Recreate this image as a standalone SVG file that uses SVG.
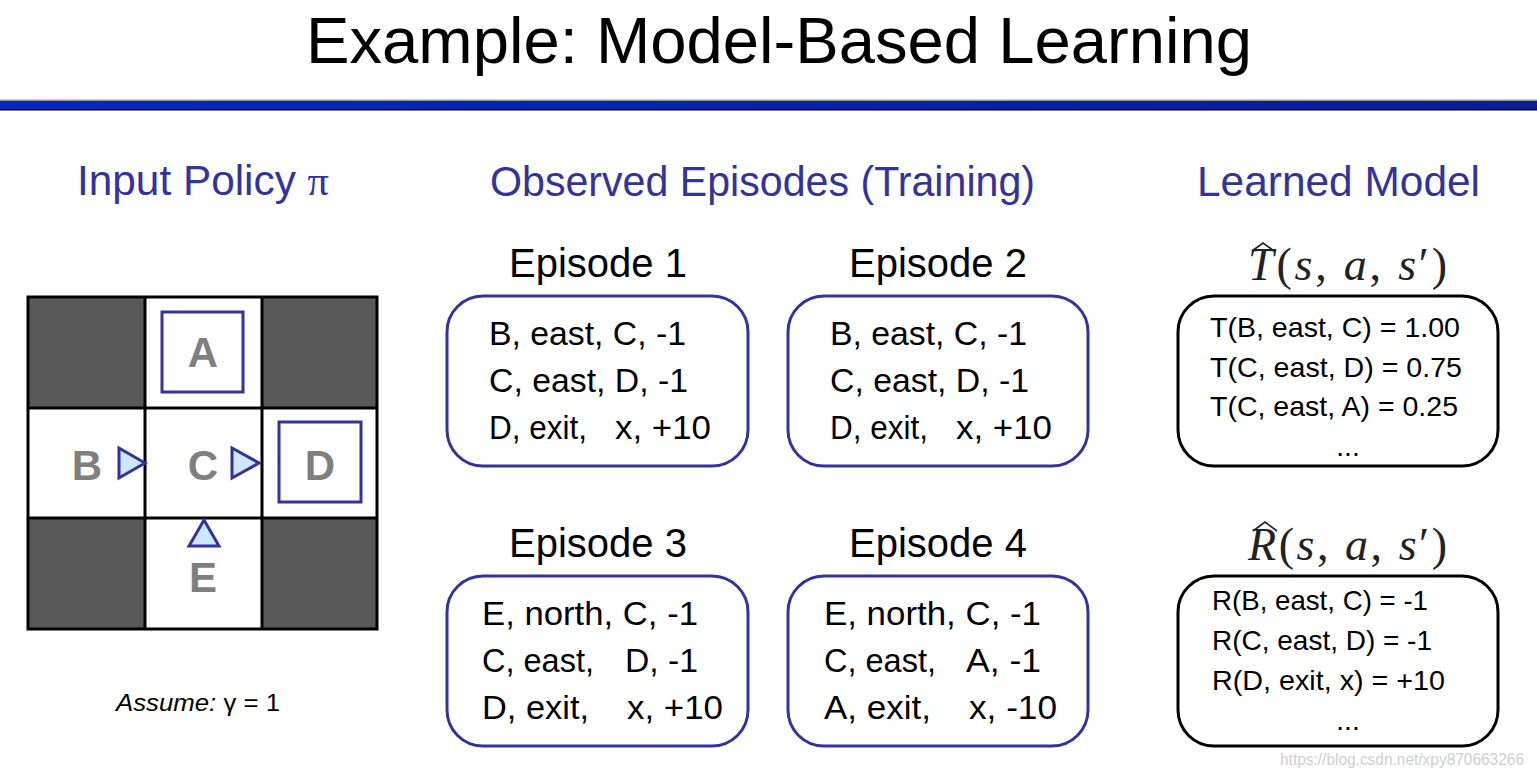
<svg xmlns="http://www.w3.org/2000/svg" width="1537" height="779" viewBox="0 0 1537 779">
  <defs>
    <linearGradient id="bar" x1="0" y1="0" x2="1" y2="0">
      <stop offset="0" stop-color="#0626c4"/>
      <stop offset="1" stop-color="#0a1c96"/>
    </linearGradient>
    <style>
      .sans { font-family: "Liberation Sans", Arial, sans-serif; }
      .title { font-size: 64px; fill: #000; }
      .head { font-size: 42px; fill: #333399; }
      .eptitle { font-size: 40px; fill: #000; text-anchor: middle; }
      .ep { font-size: 34px; fill: #000; }
      .model { font-size: 28px; fill: #000; }
      .epbox { fill: #fff; stroke: #333399; stroke-width: 3; }
      .mbox { fill: #fff; stroke: #000; stroke-width: 3; }
      .dark { fill: #595959; }
      .cellline { fill: none; stroke: #000; stroke-width: 3; }
      .term { fill: none; stroke: #333399; stroke-width: 3; }
      .letter { font-family: "Liberation Sans", Arial, sans-serif; font-weight: bold; font-size: 42px; fill: #7f7f7f; text-anchor: middle; }
      .arrow { fill: #cce8ff; stroke: #333399; stroke-width: 3; stroke-linejoin: miter; }
      .math { font-family: "Liberation Serif", "Times New Roman", serif; font-size: 46px; fill: #222; }
      .hat { fill: none; stroke: #222; stroke-width: 1.6; stroke-linejoin: miter; }
    </style>
  </defs>
  <rect width="1537" height="779" fill="#fff"/>

  <g id="header">
    <text class="sans title" x="779" y="63" text-anchor="middle" textLength="946" lengthAdjust="spacingAndGlyphs">Example: Model-Based Learning</text>
    <rect x="0" y="99.5" width="1537" height="1.5" fill="#9a9a9a"/>
    <rect x="0" y="101" width="1537" height="8" fill="url(#bar)"/>
    <rect x="0" y="109" width="1537" height="1.5" fill="#000"/>
  </g>

  <g id="headings">
    <text class="sans head" x="77" y="195" textLength="252" lengthAdjust="spacingAndGlyphs">Input Policy <tspan font-family="Liberation Serif, serif">π</tspan></text>
    <text class="sans head" x="490" y="196" textLength="545" lengthAdjust="spacingAndGlyphs">Observed Episodes (Training)</text>
    <text class="sans head" x="1197" y="196" textLength="283" lengthAdjust="spacingAndGlyphs">Learned Model</text>
  </g>

  <g id="gridworld">
    <rect x="28" y="297" width="349" height="332" fill="#fff"/>
    <rect class="dark" x="28" y="297" width="117" height="111"/>
    <rect class="dark" x="262" y="297" width="115" height="111"/>
    <rect class="dark" x="28" y="518" width="117" height="111"/>
    <rect class="dark" x="262" y="518" width="115" height="111"/>
    <rect class="cellline" x="28" y="297" width="349" height="332"/>
    <line class="cellline" x1="145" y1="297" x2="145" y2="629"/>
    <line class="cellline" x1="262" y1="297" x2="262" y2="629"/>
    <line class="cellline" x1="28" y1="408" x2="377" y2="408"/>
    <line class="cellline" x1="28" y1="518" x2="377" y2="518"/>
  </g>

  <g id="state-A">
    <rect class="term" x="162" y="312" width="81" height="80"/>
    <text class="letter" x="203" y="367">A</text>
  </g>
  <g id="state-B">
    <text class="letter" x="87" y="480">B</text>
    <polygon class="arrow" points="119,448 119,478 145,463"/>
  </g>
  <g id="state-C">
    <text class="letter" x="203" y="480">C</text>
    <polygon class="arrow" points="232,448 232,478 259,463"/>
  </g>
  <g id="state-D">
    <rect class="term" x="279" y="422" width="82" height="80"/>
    <text class="letter" x="320" y="480">D</text>
  </g>
  <g id="state-E">
    <polygon class="arrow" points="204,520 189,546 219,546"/>
    <text class="letter" x="203" y="592">E</text>
  </g>

  <g id="assume">
    <text class="sans" x="116" y="711" font-size="24" fill="#000" textLength="164" lengthAdjust="spacingAndGlyphs"><tspan font-style="italic">Assume:</tspan> γ = 1</text>
  </g>

  <g id="episode-1">
    <text class="sans eptitle" x="598" y="277">Episode 1</text>
    <rect class="epbox" x="447" y="296" width="301" height="170" rx="36" ry="36"/>
    <text class="sans ep" x="489" y="345" textLength="197" lengthAdjust="spacingAndGlyphs">B, east, C, -1</text>
    <text class="sans ep" x="489" y="392" textLength="199" lengthAdjust="spacingAndGlyphs">C, east, D, -1</text>
    <text class="sans ep" x="489" y="439" textLength="98" lengthAdjust="spacingAndGlyphs">D, exit,</text>
    <text class="sans ep" x="615" y="439" textLength="96" lengthAdjust="spacingAndGlyphs">x, +10</text>
  </g>

  <g id="episode-2">
    <text class="sans eptitle" x="938" y="277">Episode 2</text>
    <rect class="epbox" x="788" y="296" width="300" height="170" rx="36" ry="36"/>
    <text class="sans ep" x="830" y="345" textLength="197" lengthAdjust="spacingAndGlyphs">B, east, C, -1</text>
    <text class="sans ep" x="830" y="392" textLength="199" lengthAdjust="spacingAndGlyphs">C, east, D, -1</text>
    <text class="sans ep" x="830" y="439" textLength="98" lengthAdjust="spacingAndGlyphs">D, exit,</text>
    <text class="sans ep" x="956" y="439" textLength="96" lengthAdjust="spacingAndGlyphs">x, +10</text>
  </g>

  <g id="episode-3">
    <text class="sans eptitle" x="598" y="557">Episode 3</text>
    <rect class="epbox" x="447" y="576" width="301" height="170" rx="36" ry="36"/>
    <text class="sans ep" x="482" y="625" textLength="216" lengthAdjust="spacingAndGlyphs">E, north, C, -1</text>
    <text class="sans ep" x="482" y="672" textLength="112" lengthAdjust="spacingAndGlyphs">C, east,</text>
    <text class="sans ep" x="625" y="672" textLength="73" lengthAdjust="spacingAndGlyphs">D, -1</text>
    <text class="sans ep" x="482" y="719" textLength="107" lengthAdjust="spacingAndGlyphs">D, exit,</text>
    <text class="sans ep" x="627" y="719" textLength="96" lengthAdjust="spacingAndGlyphs">x, +10</text>
  </g>

  <g id="episode-4">
    <text class="sans eptitle" x="938" y="557">Episode 4</text>
    <rect class="epbox" x="788" y="576" width="300" height="170" rx="36" ry="36"/>
    <text class="sans ep" x="824" y="625" textLength="217" lengthAdjust="spacingAndGlyphs">E, north, C, -1</text>
    <text class="sans ep" x="824" y="672" textLength="112" lengthAdjust="spacingAndGlyphs">C, east,</text>
    <text class="sans ep" x="966" y="672" textLength="75" lengthAdjust="spacingAndGlyphs">A, -1</text>
    <text class="sans ep" x="824" y="719" textLength="107" lengthAdjust="spacingAndGlyphs">A, exit,</text>
    <text class="sans ep" x="969" y="719" textLength="88" lengthAdjust="spacingAndGlyphs">x, -10</text>
  </g>

  <g id="model-T">
    <text class="math" x="1248" y="280" textLength="199" lengthAdjust="spacing"><tspan font-style="italic">T</tspan>(<tspan font-style="italic">s</tspan>, <tspan font-style="italic">a</tspan>, <tspan font-style="italic">s</tspan>′)</text>
    <polyline class="hat" points="1252,251 1263,243 1274,251"/>
    <rect class="mbox" x="1178" y="296" width="320" height="170" rx="36" ry="36"/>
    <text class="sans model" x="1210" y="337" textLength="250" lengthAdjust="spacingAndGlyphs">T(B, east, C) = 1.00</text>
    <text class="sans model" x="1210" y="377" textLength="252" lengthAdjust="spacingAndGlyphs">T(C, east, D) = 0.75</text>
    <text class="sans model" x="1210" y="416" textLength="248" lengthAdjust="spacingAndGlyphs">T(C, east, A) = 0.25</text>
    <text class="sans model" x="1348" y="456" text-anchor="middle">...</text>
  </g>

  <g id="model-R">
    <text class="math" x="1248" y="560" textLength="199" lengthAdjust="spacing"><tspan font-style="italic">R</tspan>(<tspan font-style="italic">s</tspan>, <tspan font-style="italic">a</tspan>, <tspan font-style="italic">s</tspan>′)</text>
    <polyline class="hat" points="1253,531 1265,522 1277,531"/>
    <rect class="mbox" x="1178" y="576" width="320" height="170" rx="36" ry="36"/>
    <text class="sans model" x="1212" y="610" textLength="216" lengthAdjust="spacingAndGlyphs">R(B, east, C) = -1</text>
    <text class="sans model" x="1212" y="650" textLength="220" lengthAdjust="spacingAndGlyphs">R(C, east, D) = -1</text>
    <text class="sans model" x="1212" y="690" textLength="233" lengthAdjust="spacingAndGlyphs">R(D, exit, x) = +10</text>
    <text class="sans model" x="1348" y="730" text-anchor="middle">...</text>
  </g>

  <g id="connectors"/>

  <text class="sans" x="1280" y="765" font-size="16" fill="#cfcfcf" textLength="244" lengthAdjust="spacingAndGlyphs">https://blog.csdn.net/xpy870663266</text>
</svg>
